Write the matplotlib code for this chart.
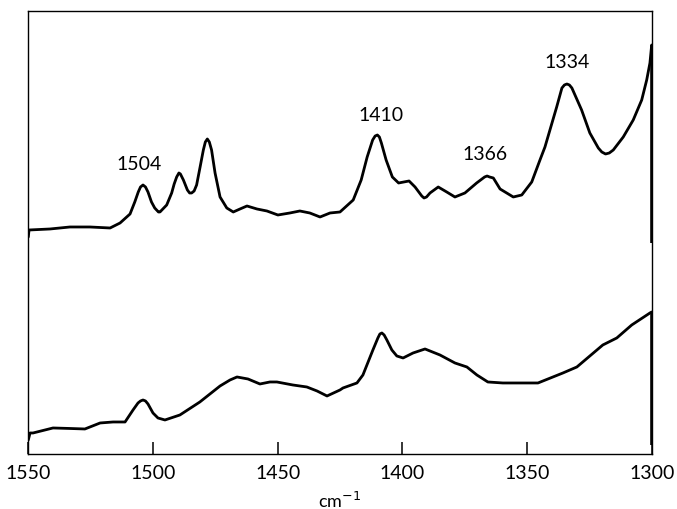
import matplotlib
matplotlib.use("Agg")
import matplotlib.pyplot as plt

# Wavenumber (cm-1) / absorbance (arbitrary units) for the two traces.
upper_wn = [1550.0, 1549.7, 1541.3, 1533.3, 1525.3, 1517.2, 1513.2, 1509.2, 1507.3,
            1505.9, 1505.0, 1504.0, 1503.0, 1502.0, 1500.6, 1499.3, 1497.8, 1497.2,
            1494.5, 1492.5, 1491.5, 1490.5, 1489.6, 1489.0, 1487.8, 1486.2, 1485.3,
            1484.5, 1483.5, 1482.5, 1481.1, 1479.8, 1479.0, 1478.2, 1477.4, 1476.5,
            1475.1, 1473.1, 1470.4, 1467.8, 1465.1, 1462.3, 1458.3, 1454.3, 1449.9,
            1445.1, 1441.1, 1437.1, 1433.0, 1429.0, 1425.0, 1419.7, 1416.5, 1414.1,
            1411.9, 1410.9, 1410.0, 1409.2, 1408.4, 1406.5, 1404.0, 1401.5, 1397.3,
            1394.9, 1392.2, 1391.3, 1390.3, 1388.9, 1385.6, 1382.2, 1378.9, 1374.9,
            1370.2, 1367.0, 1366.0, 1365.0, 1363.5, 1360.8, 1355.5, 1352.1, 1348.1,
            1344.8, 1342.8, 1338.1, 1336.0, 1335.0, 1334.0, 1333.0, 1332.0, 1328.1,
            1324.8, 1321.4, 1320.0, 1318.5, 1317.0, 1315.4, 1311.4, 1307.4, 1304.0,
            1302.0, 1300.7, 1300.0]
upper_abs = [2.17, 2.24, 2.25, 2.27, 2.27, 2.26, 2.31, 2.40, 2.52,
             2.62, 2.67, 2.69, 2.67, 2.62, 2.52, 2.46, 2.42, 2.42,
             2.49, 2.61, 2.70, 2.77, 2.81, 2.80, 2.74, 2.64, 2.61,
             2.61, 2.63, 2.69, 2.87, 3.04, 3.12, 3.15, 3.12, 3.04,
             2.81, 2.57, 2.46, 2.42, 2.45, 2.48, 2.45, 2.43, 2.39,
             2.41, 2.43, 2.41, 2.37, 2.41, 2.42, 2.54, 2.74, 2.97,
             3.14, 3.18, 3.19, 3.17, 3.11, 2.94, 2.77, 2.71, 2.73,
             2.67, 2.58, 2.56, 2.57, 2.61, 2.67, 2.62, 2.57, 2.61,
             2.71, 2.77, 2.78, 2.77, 2.76, 2.65, 2.57, 2.59, 2.72,
             2.94, 3.07, 3.47, 3.66, 3.69, 3.70, 3.69, 3.66, 3.44,
             3.21, 3.06, 3.02, 3.00, 3.01, 3.04, 3.17, 3.34, 3.54,
             3.74, 3.91, 4.09]
upper_drop = 2.11  # where the pen comes down at the end of the scan

lower_wn = [1550.0, 1549.3, 1548.1, 1540.1, 1533.3, 1527.3, 1521.2, 1516.0, 1511.2,
            1508.0, 1506.0, 1505.0, 1504.0, 1503.0, 1502.0, 1500.0, 1498.0, 1495.2,
            1489.2, 1481.2, 1473.1, 1469.1, 1466.3, 1461.9, 1457.1, 1453.1, 1450.3,
            1443.9, 1438.3, 1434.2, 1430.2, 1425.0, 1423.8, 1418.2, 1415.8, 1411.8,
            1409.8, 1409.0, 1408.2, 1407.3, 1406.2, 1404.2, 1402.2, 1399.7, 1395.7,
            1390.9, 1384.9, 1378.9, 1374.1, 1370.1, 1365.7, 1359.7, 1351.7, 1345.6,
            1335.6, 1330.0, 1324.8, 1319.6, 1314.0, 1308.0, 1300.7, 1300.0]
lower_abs = [0.14, 0.21, 0.21, 0.26, 0.255, 0.25, 0.31, 0.32, 0.32,
             0.44, 0.51, 0.53, 0.54, 0.53, 0.50, 0.41, 0.36, 0.34,
             0.39, 0.52, 0.68, 0.74, 0.77, 0.75, 0.70, 0.72, 0.72,
             0.69, 0.67, 0.63, 0.58, 0.64, 0.66, 0.71, 0.79, 1.04,
             1.16, 1.20, 1.21, 1.19, 1.14, 1.04, 0.98, 0.96, 1.01,
             1.05, 0.99, 0.91, 0.87, 0.79, 0.72, 0.71, 0.71, 0.71,
             0.81, 0.87, 0.98, 1.09, 1.16, 1.29, 1.41, 1.42]
lower_drop = 0.09

# Band assignments marked on the upper trace: (wavenumber, absorbance, dx px, dy px)
band_labels = [(1504, 2.69, -4, 12), (1410, 3.19, 4, 11),
               (1366, 2.78, -2, 13), (1334, 3.70, 0, 13)]

x_ticks = [1550, 1500, 1450, 1400, 1350, 1300]

label_font = dict(family="Lato", weight="normal", size=14, color="black")

fig = plt.figure(figsize=(6.77, 5.09), dpi=100)
ax = fig.add_axes([0.0418, 0.1081, 0.9208, 0.8703])

for wn, a, drop in [(upper_wn, upper_abs, upper_drop), (lower_wn, lower_abs, lower_drop)]:
    ax.plot(wn, a, color="black", lw=2.0, solid_joinstyle="round", solid_capstyle="round")
    ax.vlines(wn[-1], drop, a[-1], color="black", lw=2.6)

for wn, a, dx, dy in band_labels:
    ax.annotate(str(wn), xy=(wn, a), xytext=(dx * 0.72, dy * 0.72),
                textcoords="offset points", ha="center", va="bottom", **label_font)

ax.set_xlim(1550, 1300)
ax.set_ylim(0, 4.43)
ax.set_xticks(x_ticks)
ax.set_xticklabels([str(t) for t in x_ticks], **label_font)
ax.tick_params(axis="x", direction="in", length=9, width=1.1, color="black", pad=8)
ax.set_yticks([])
for sp in ax.spines.values():
    sp.set_linewidth(1.0)

ax.set_xlabel("cm$^{-1}$", fontfamily="Lato", fontsize=13, color="black", labelpad=6)

fig.savefig("out.png", dpi=100)
